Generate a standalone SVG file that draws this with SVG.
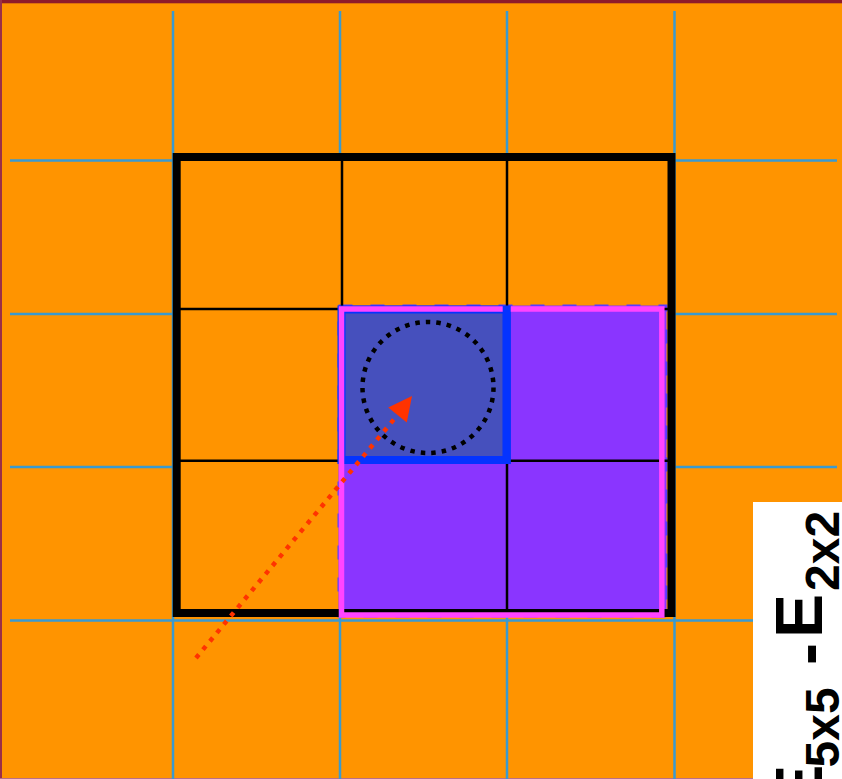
<svg xmlns="http://www.w3.org/2000/svg" width="842" height="779" viewBox="0 0 842 779">
<style>
.grid{stroke:#3a9ad0;stroke-width:2.5;fill:none}
.thin{stroke:#000;stroke-width:2.5;fill:none}
.lbl{font-family:"Liberation Sans",Arial,sans-serif;font-weight:bold;fill:#000}
</style>
<!-- background -->
<rect x="0" y="0" width="842" height="779" fill="#ff9400"/>
<rect x="0" y="0" width="842" height="3.3" fill="#8f1b2b"/>
<rect x="0" y="0" width="2" height="779" fill="#9a3048"/>
<rect x="0" y="778" width="842" height="1" fill="#b87088"/>
<!-- blue grid -->
<g id="grid" class="grid">
<line x1="173" y1="11" x2="173" y2="779"/>
<line x1="340" y1="11" x2="340" y2="779"/>
<line x1="507" y1="11" x2="507" y2="779"/>
<line x1="674.5" y1="11" x2="674.5" y2="779"/>
<line x1="10" y1="160.5" x2="837" y2="160.5"/>
<line x1="10" y1="314" x2="837" y2="314"/>
<line x1="10" y1="467" x2="837" y2="467"/>
<line x1="10" y1="620.5" x2="837" y2="620.5"/>
</g>
<!-- black 3x3 block -->
<g id="block3x3">
<rect x="176.7" y="157" width="494.8" height="456" fill="#ff9400"/>
<rect x="338.5" y="305.5" width="328" height="311" fill="#8a35ff" stroke="#5a3cff" stroke-width="2" stroke-dasharray="14 18"/>
<g class="thin">
<line x1="342" y1="157" x2="342" y2="613"/>
<line x1="507" y1="157" x2="507" y2="613"/>
<line x1="176.7" y1="309" x2="671.5" y2="309"/>
<line x1="176.7" y1="460.7" x2="671.5" y2="460.7"/>
</g>
<rect x="176.7" y="157" width="494.8" height="456" fill="none" stroke="#000" stroke-width="8"/>
</g>
<!-- blue 1x1 cell -->
<g id="cell1x1">
<rect x="341.5" y="309.5" width="165.2" height="150.5" fill="#4650bd" stroke="#0533ff" stroke-width="8"/>
</g>
<!-- magenta 2x2 window -->
<g id="window2x2">
<rect x="341.5" y="309" width="320.3" height="306" fill="none" stroke="#ff44ff" stroke-width="5.5"/>
<path d="M506.7,306 V464 M345,460 H510.7" fill="none" stroke="#0533ff" stroke-width="8"/>
</g>
<!-- dotted circle -->
<g id="circle">
<circle cx="428" cy="387.5" r="65.5" fill="none" stroke="#000" stroke-width="4.5" stroke-dasharray="4.5 6.05"/>
</g>
<!-- connectors -->
<g id="connectors">
<line x1="196" y1="658" x2="397.5" y2="415" stroke="#ff3300" stroke-width="4.5" stroke-dasharray="4.5 6.4"/>
<polygon points="412,396 388.2,407.4 406.8,422.6" fill="#ff3300"/>
</g>
<!-- label -->
<g id="label">
<rect x="753" y="502" width="89" height="277" fill="#fff"/>
<g transform="translate(822,779) rotate(-90)">
<text class="lbl"><tspan x="-29.7" y="0" font-size="66">E</tspan><tspan x="11.5" y="16.5" font-size="48">5x5</tspan> <tspan x="114" y="7" font-size="66">-</tspan><tspan x="141" y="0" font-size="66">E</tspan><tspan x="188" y="16.5" font-size="48">2x2</tspan></text>
</g>
</g>
</svg>
